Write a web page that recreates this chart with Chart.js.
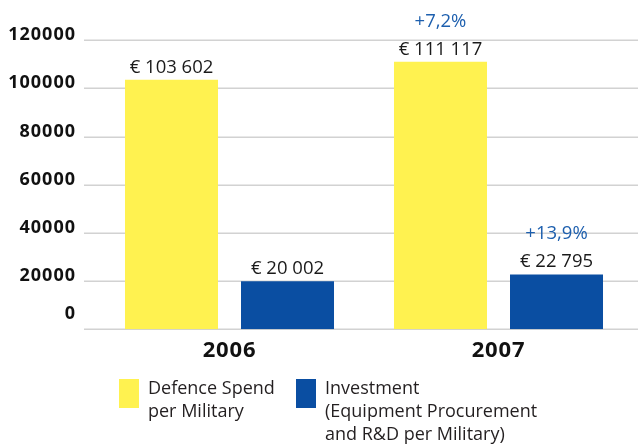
<!DOCTYPE html>
<html>
<head>
<meta charset="utf-8">
<script src="https://cdn.jsdelivr.net/npm/chart.js@4/dist/chart.umd.min.js"></script>
<style>
  html, body { margin: 0; padding: 0; background: #fff; }
  #wrap { position: relative; width: 638px; height: 447px; }
  canvas { position: absolute; left: 0; top: 0; }
  .lg-box { position: absolute; width: 20px; height: 29px; top: 379px; }
  .lg-text { position: absolute; top: 376px; font-family: "Open Sans", sans-serif; font-size: 18px; line-height: 23px; color: #231f20; white-space: nowrap; }
</style>
</head>
<body>
<div id="wrap">
  <canvas id="c" width="638" height="447"></canvas>
  <div id="legend"></div>
</div>
<script>
// ---- data ----
const categories = ["2006", "2007"];
const seriesNames = [["Defence Spend", "per Military"], ["Investment", "(Equipment Procurement", "and R&D per Military)"]];
const defenceSpend = [103602, 111117];
const investment = [20002, 22795];
const defenceLabels = ["€ 103 602", "€ 111 117"];
const investmentLabels = ["€ 20 002", "€ 22 795"];
const defenceChange = ["", "+7,2%"];
const investmentChange = ["", "+13,9%"];
const yTicks = [0, 20000, 40000, 60000, 80000, 100000, 120000];

const colors = ["#fff250", "#0a4ea2"];
const FONT = '"Open Sans", sans-serif';

const decorPlugin = {
  id: 'decor',
  beforeDatasetsDraw(chart) {
    const ctx = chart.ctx, y = chart.scales.y;
    ctx.save();
    ctx.strokeStyle = '#d2d2d2';
    ctx.lineWidth = 1.5;
    yTicks.forEach(v => {
      const py = Math.round(y.getPixelForValue(v)) + 0.25;
      ctx.beginPath(); ctx.moveTo(84, py); ctx.lineTo(638, py); ctx.stroke();
    });
    // y tick labels
    ctx.fillStyle = '#111';
    ctx.font = 'bold 18px ' + FONT;
    ctx.letterSpacing = '1px';
    ctx.textAlign = 'right';
    ctx.textBaseline = 'alphabetic';
    yTicks.forEach(v => {
      const py = y.getPixelForValue(v);
      ctx.fillText(String(v), 76, v === 0 ? py - 10 : py);
    });
    // x labels
    const x = chart.scales.x;
    ctx.font = 'bold 22px ' + FONT;
    ctx.letterSpacing = '0.8px';
    ctx.textAlign = 'center';
    categories.forEach((c, i) => {
      ctx.fillText(c, x.getPixelForValue(i), 357);
    });
    ctx.restore();
  },
  afterDatasetsDraw(chart) {
    const ctx = chart.ctx;
    const valueLabels = [defenceLabels, investmentLabels];
    const changeLabels = [defenceChange, investmentChange];
    ctx.save();
    ctx.font = '18.5px ' + FONT;
    ctx.textAlign = 'center';
    ctx.textBaseline = 'alphabetic';
    chart.data.datasets.forEach((ds, di) => {
      chart.getDatasetMeta(di).data.forEach((bar, i) => {
        ctx.fillStyle = '#1a1a1a';
        ctx.fillText(valueLabels[di][i], bar.x, bar.y - 7);
        if (changeLabels[di][i]) {
          ctx.fillStyle = '#1d5fae';
          ctx.fillText(changeLabels[di][i], bar.x, bar.y - 35);
        }
      });
    });
    ctx.restore();
  }
};

new Chart(document.getElementById('c'), {
  type: 'bar',
  data: {
    labels: categories,
    datasets: [
      { label: seriesNames[0].join(' '), data: defenceSpend, backgroundColor: colors[0] },
      { label: seriesNames[1].join(' '), data: investment, backgroundColor: colors[1] }
    ]
  },
  options: {
    responsive: false,
    animation: false,
    events: [],
    layout: { padding: { left: 95, right: 5, top: 40.3, bottom: 117.7 } },
    datasets: { bar: { categoryPercentage: 0.8625, barPercentage: 0.8017 } },
    scales: {
      x: { display: false },
      y: { display: false, min: 0, max: 120000 }
    },
    plugins: { legend: { display: false }, tooltip: { enabled: false } }
  },
  plugins: [decorPlugin]
});

// HTML legend
const legend = document.getElementById('legend');
const boxLeft = [119, 296];
seriesNames.forEach((lines, i) => {
  const b = document.createElement('div');
  b.className = 'lg-box';
  b.style.left = boxLeft[i] + 'px';
  b.style.background = colors[i];
  legend.appendChild(b);
  const t = document.createElement('div');
  t.className = 'lg-text';
  t.style.left = (boxLeft[i] + 29) + 'px';
  lines.forEach((ln, k) => {
    if (k) t.appendChild(document.createElement('br'));
    t.appendChild(document.createTextNode(ln));
  });
  legend.appendChild(t);
});
</script>
</body>
</html>
